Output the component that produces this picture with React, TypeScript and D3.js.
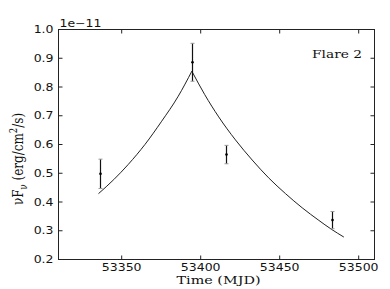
import React from 'react';
import * as d3 from 'd3';

// observations (MJD, nuFnu in units of 1e-11, error)
const obsTime = [53336.0, 53394.4, 53416.1, 53482.8];
const obsFlux = [0.498, 0.886, 0.565, 0.337];
const obsErr = [0.051, 0.066, 0.032, 0.030];

// model curve: rise and decay parts meet at the peak
const riseTime = [53335.3, 53345.0, 53354.2, 53364.7, 53375.3, 53385.8, 53394.4];
const riseFlux = [0.429, 0.478, 0.531, 0.600, 0.681, 0.768, 0.855];
const decayTime = [53394.4, 53402.5, 53411.4, 53422.0, 53432.6, 53443.0, 53453.7, 53464.2, 53474.8, 53482.5, 53490.6];
const decayFlux = [0.855, 0.774, 0.696, 0.616, 0.546, 0.484, 0.429, 0.380, 0.336, 0.306, 0.278];

const xTicks = [53350, 53400, 53450, 53500];
const yTicks = [0.2, 0.3, 0.4, 0.5, 0.6, 0.7, 0.8, 0.9, 1.0];

const W = 390;
const H = 289;
const left = 58.5, right = 374.5, top = 29.5, bottom = 259.5;
const SX = 1.25; // the picture is stretched sideways

const sans = '"DejaVu Sans", sans-serif';
const serif = '"DejaVu Serif", serif';

export default function App() {
  const x = d3.scaleLinear().domain([53310, 53510]).range([left, right]);
  const y = d3.scaleLinear().domain([0.2, 1.0]).range([bottom, top]);

  const line = d3.line<[number, number]>()
    .x(d => x(d[0]))
    .y(d => y(d[1]))
    .curve(d3.curveMonotoneX);

  const rise = riseTime.map((t, i) => [t, riseFlux[i]] as [number, number]);
  const decay = decayTime.map((t, i) => [t, decayFlux[i]] as [number, number]);

  return (
    <svg width={W} height={H} style={{ position: 'absolute', left: 0, top: 0, background: '#fff' }}>
      <rect x={0} y={0} width={W} height={H} fill="#fff" />

      {/* model */}
      <path d={line(rise) || ''} fill="none" stroke="#222" strokeWidth={1} />
      <path d={line(decay) || ''} fill="none" stroke="#222" strokeWidth={1} />

      {/* data with error bars */}
      {obsTime.map((t, i) => {
        const cx = Math.round(x(t)) + 0.5;
        const y1 = y(obsFlux[i] + obsErr[i]);
        const y0 = y(obsFlux[i] - obsErr[i]);
        return (
          <g key={i}>
            <line x1={cx} x2={cx} y1={y1} y2={y0} stroke="#111" strokeWidth={1.2} />
            <line x1={cx - 2} x2={cx + 2} y1={y1} y2={y1} stroke="#999" strokeWidth={1} />
            <line x1={cx - 2} x2={cx + 2} y1={y0} y2={y0} stroke="#999" strokeWidth={1} />
            <circle cx={cx} cy={y(obsFlux[i])} r={1.3} fill="#000" />
          </g>
        );
      })}

      {/* frame */}
      <rect x={left} y={top} width={right - left} height={bottom - top} fill="none" stroke="#222" strokeWidth={1} />

      {/* x ticks */}
      {xTicks.map(t => (
        <g key={'x' + t}>
          <line x1={x(t)} x2={x(t)} y1={bottom} y2={bottom - 4} stroke="#222" />
          <line x1={x(t)} x2={x(t)} y1={top} y2={top + 4} stroke="#222" />
          <text transform={`translate(${x(t)},${bottom + 11}) scale(${SX},1)`} textAnchor="middle"
            fontFamily={sans} fontSize={10} fill="#111">{t}</text>
        </g>
      ))}

      {/* y ticks */}
      {yTicks.map(v => (
        <g key={'y' + v}>
          <line x1={left} x2={left + 4} y1={y(v)} y2={y(v)} stroke="#222" />
          <line x1={right} x2={right - 4} y1={y(v)} y2={y(v)} stroke="#222" />
          <text transform={`translate(${left - 5},${y(v) + 3.6}) scale(${SX},1)`} textAnchor="end"
            fontFamily={sans} fontSize={10} fill="#111">{v.toFixed(1)}</text>
        </g>
      ))}

      {/* offset text */}
      <text transform={`translate(${left + 1},${top - 3}) scale(${SX},1)`} fontFamily={sans} fontSize={10} fill="#111">
        1e−11
      </text>

      {/* axis labels */}
      <text transform={`translate(${(left + right) / 2 + 2},${bottom + 24}) scale(${SX},1)`} textAnchor="middle"
        fontFamily={serif} fontSize={11.5} fill="#111">Time (MJD)</text>

      <text transform={`translate(23,159) scale(${SX},1) rotate(-90)`} textAnchor="middle"
        fontFamily={serif} fontSize={12} fill="#111">
        νF<tspan fontSize={8.5} dy={3}>ν</tspan><tspan dy={-3}> (erg/cm</tspan>
        <tspan fontSize={8.5} dy={-4.5}>2</tspan><tspan dy={4.5}>/s)</tspan>
      </text>

      <text transform={`translate(362,58) scale(${SX},1)`} textAnchor="end"
        fontFamily={serif} fontSize={11} fill="#111">Flare 2</text>
    </svg>
  );
}
